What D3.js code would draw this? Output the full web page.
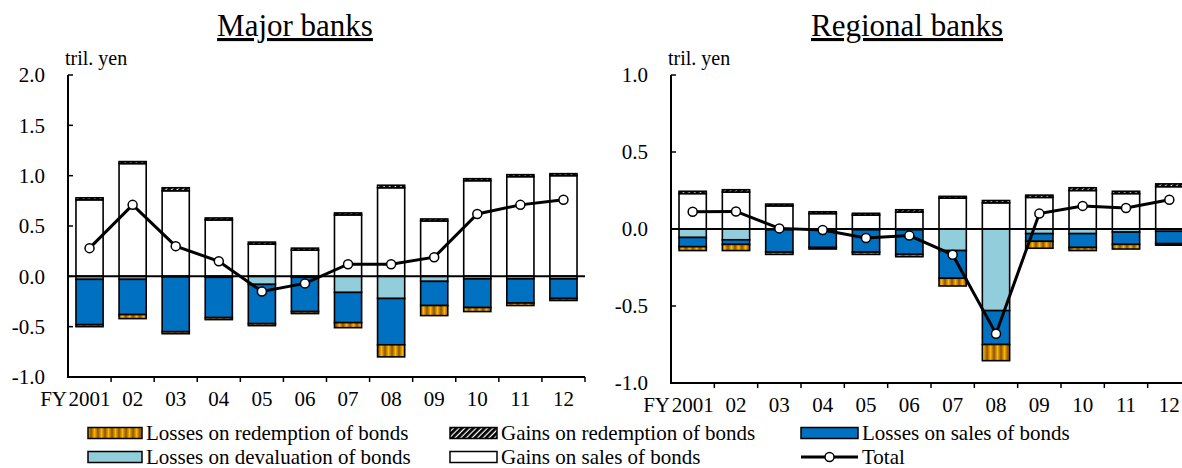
<!DOCTYPE html>
<html>
<head>
<meta charset="utf-8">
<script src="https://cdn.jsdelivr.net/npm/d3@7"></script>
<style>
  body { margin: 0; background: #fff; }
  svg { display: block; font-family: "Liberation Serif", "Times New Roman", "DejaVu Serif", serif; }
</style>
</head>
<body>
<div id="chart"></div>
<script>
// fiscal years on the x axis
var years = ["2001", "02", "03", "04", "05", "06", "07", "08", "09", "10", "11", "12"];

// major banks (tril. yen), losses given as positive sizes, drawn below zero
var majorGainsSales      = [0.76, 1.12, 0.85, 0.56, 0.32, 0.26, 0.61, 0.88, 0.55, 0.95, 0.99, 1.00];
var majorGainsRedemption = [0.02, 0.02, 0.03, 0.02, 0.02, 0.02, 0.02, 0.025, 0.02, 0.02, 0.02, 0.02];
var majorLossDevaluation = [0.03, 0.03, 0.005, 0.01, 0.08, 0.01, 0.16, 0.22, 0.05, 0.025, 0.025, 0.025];
var majorLossSales       = [0.45, 0.35, 0.545, 0.40, 0.39, 0.34, 0.30, 0.46, 0.24, 0.285, 0.24, 0.195];
var majorLossRedemption  = [0.02, 0.04, 0.02, 0.02, 0.02, 0.02, 0.05, 0.12, 0.10, 0.04, 0.025, 0.02];
var majorTotal           = [0.28, 0.71, 0.30, 0.15, -0.15, -0.07, 0.12, 0.12, 0.19, 0.62, 0.71, 0.76];

// regional banks
var regGainsSales      = [0.23, 0.24, 0.15, 0.10, 0.09, 0.11, 0.20, 0.17, 0.205, 0.25, 0.23, 0.275];
var regGainsRedemption = [0.015, 0.015, 0.012, 0.012, 0.012, 0.015, 0.012, 0.015, 0.015, 0.018, 0.015, 0.018];
var regLossDevaluation = [0.055, 0.07, 0.005, 0.005, 0.005, 0.005, 0.14, 0.53, 0.03, 0.03, 0.02, 0.015];
var regLossSales       = [0.06, 0.03, 0.145, 0.115, 0.145, 0.16, 0.18, 0.22, 0.05, 0.09, 0.08, 0.08];
var regLossRedemption  = [0.025, 0.04, 0.015, 0.01, 0.015, 0.015, 0.05, 0.105, 0.045, 0.02, 0.03, 0.01];
var regTotal           = [0.112, 0.114, 0.004, -0.006, -0.058, -0.043, -0.167, -0.68, 0.10, 0.15, 0.136, 0.19];

var majorTicks = [2.0, 1.5, 1.0, 0.5, 0.0, -0.5, -1.0];
var regTicks = [1.0, 0.5, 0.0, -0.5, -1.0];

var BLUE = "#0070C0", LIGHTBLUE = "#92CDDC";

var svg = d3.select("#chart").append("svg")
    .attr("width", 1182)
    .attr("height", 468)
    .attr("font-family", "'Liberation Serif', 'Times New Roman', serif");

// fills with patterns
var defs = svg.append("defs");
var grad = defs.append("linearGradient").attr("id", "orangeGrad")
    .attr("x1", "0").attr("x2", "1").attr("y1", "0").attr("y2", "0");
grad.append("stop").attr("offset", "0%").attr("stop-color", "#8a5400");
grad.append("stop").attr("offset", "50%").attr("stop-color", "#ffb400");
grad.append("stop").attr("offset", "100%").attr("stop-color", "#8a5400");
defs.append("pattern").attr("id", "orange")
    .attr("patternUnits", "userSpaceOnUse")
    .attr("width", 7).attr("height", 10)
    .append("rect").attr("width", 7).attr("height", 10).attr("fill", "url(#orangeGrad)");

var hatch = defs.append("pattern").attr("id", "hatch")
    .attr("patternUnits", "userSpaceOnUse")
    .attr("width", 4).attr("height", 4)
    .attr("patternTransform", "rotate(45)");
hatch.append("rect").attr("width", 4).attr("height", 4).attr("fill", "#fff");
hatch.append("rect").attr("width", 2.8).attr("height", 4).attr("fill", "#000");

function drawPanel(opt) {
    var x = d3.scaleBand().domain(years).range([opt.x0, opt.x1]).paddingInner(0.37).paddingOuter(0.185);
    var y = d3.scaleLinear().domain(opt.domain).range([opt.y1, opt.y0]);
    var g = svg.append("g");

    // stacked segments: positives up from zero, losses down from zero
    var series = [
        { vals: opt.gainsSales, fill: "#fff", sign: 1 },
        { vals: opt.gainsRed, fill: "url(#hatch)", sign: 1 },
        { vals: opt.lossDev, fill: LIGHTBLUE, sign: -1 },
        { vals: opt.lossSales, fill: BLUE, sign: -1 },
        { vals: opt.lossRed, fill: "url(#orange)", sign: -1 }
    ];
    var pos = years.map(function () { return 0; });
    var neg = years.map(function () { return 0; });
    series.forEach(function (s) {
        var rows = years.map(function (yr, i) {
            var base = s.sign > 0 ? pos[i] : neg[i];
            var top = base + s.sign * s.vals[i];
            if (s.sign > 0) pos[i] = top; else neg[i] = top;
            return { yr: yr, a: base, b: top };
        });
        g.selectAll(null).data(rows).enter().append("rect")
            .attr("x", function (d) { return x(d.yr); })
            .attr("width", x.bandwidth())
            .attr("y", function (d) { return y(Math.max(d.a, d.b)); })
            .attr("height", function (d) { return Math.abs(y(d.a) - y(d.b)); })
            .attr("fill", s.fill)
            .attr("stroke", "#000")
            .attr("stroke-width", 1.6);
    });

    // zero line
    g.append("line")
        .attr("x1", opt.x0).attr("x2", opt.x1)
        .attr("y1", y(0)).attr("y2", y(0))
        .attr("stroke", "#000").attr("stroke-width", 2);

    // axes
    g.append("line").attr("x1", opt.x0).attr("x2", opt.x0)
        .attr("y1", y(opt.domain[1])).attr("y2", y(opt.domain[0]) + 1)
        .attr("stroke", "#000").attr("stroke-width", 2);
    g.append("line").attr("x1", opt.x0).attr("x2", opt.x1)
        .attr("y1", y(opt.domain[0])).attr("y2", y(opt.domain[0]))
        .attr("stroke", "#000").attr("stroke-width", 2);

    opt.ticks.forEach(function (t) {
        g.append("line").attr("x1", opt.x0).attr("x2", opt.x0 + 5)
            .attr("y1", y(t)).attr("y2", y(t))
            .attr("stroke", "#000").attr("stroke-width", 1.5);
        g.append("text")
            .attr("x", opt.x0 - 23).attr("y", y(t))
            .attr("dy", "0.35em")
            .attr("text-anchor", "end")
            .attr("font-size", 21)
            .text(t.toFixed(1));
    });

    var step = x.step();
    years.forEach(function (yr, i) {
        var bx = opt.x0 + step * (i + 1);
        g.append("line").attr("x1", bx).attr("x2", bx)
            .attr("y1", y(opt.domain[0])).attr("y2", y(opt.domain[0]) + 5)
            .attr("stroke", "#000").attr("stroke-width", 1.5);
        g.append("text")
            .attr("x", x(yr) + x.bandwidth() / 2)
            .attr("y", y(opt.domain[0]) + 29)
            .attr("text-anchor", "middle")
            .attr("font-size", 21)
            .text(yr);
    });
    g.append("text")
        .attr("x", opt.x0 - 1).attr("y", y(opt.domain[0]) + 29)
        .attr("text-anchor", "end")
        .attr("font-size", 21)
        .text("FY");

    g.append("text")
        .attr("x", opt.x0 - 3).attr("y", 65)
        .attr("font-size", 20)
        .text("tril. yen");

    g.append("text")
        .attr("x", opt.titleX).attr("y", 36)
        .attr("text-anchor", "middle")
        .attr("font-size", 31)
        .attr("text-decoration", "underline")
        .text(opt.title);

    // total line
    var line = d3.line()
        .x(function (d, i) { return x(years[i]) + x.bandwidth() / 2; })
        .y(function (d) { return y(d); });
    g.append("path").datum(opt.total)
        .attr("d", line)
        .attr("fill", "none")
        .attr("stroke", "#000")
        .attr("stroke-width", 3);
    g.selectAll(null).data(opt.total).enter().append("circle")
        .attr("cx", function (d, i) { return x(years[i]) + x.bandwidth() / 2; })
        .attr("cy", function (d) { return y(d); })
        .attr("r", 4.5)
        .attr("fill", "#fff")
        .attr("stroke", "#000")
        .attr("stroke-width", 1.5);
}

drawPanel({
    title: "Major banks", titleX: 295,
    x0: 68, x1: 585, y0: 75, y1: 377,
    domain: [-1, 2], ticks: majorTicks,
    gainsSales: majorGainsSales, gainsRed: majorGainsRedemption,
    lossDev: majorLossDevaluation, lossSales: majorLossSales, lossRed: majorLossRedemption,
    total: majorTotal
});

drawPanel({
    title: "Regional banks", titleX: 907,
    x0: 671, x1: 1191, y0: 75, y1: 383,
    domain: [-1, 1], ticks: regTicks,
    gainsSales: regGainsSales, gainsRed: regGainsRedemption,
    lossDev: regLossDevaluation, lossSales: regLossSales, lossRed: regLossRedemption,
    total: regTotal
});

// legend
var legendItems = [
    { label: "Losses on redemption of bonds", fill: "url(#orange)", x: 88, y: 433 },
    { label: "Gains on redemption of bonds", fill: "url(#hatch)", x: 450, y: 433 },
    { label: "Losses on sales of bonds", fill: BLUE, x: 801, y: 433 },
    { label: "Losses on devaluation of bonds", fill: LIGHTBLUE, x: 88, y: 457 },
    { label: "Gains on sales of bonds", fill: "#fff", x: 450, y: 457 },
    { label: "Total", line: true, x: 801, y: 457 }
];
var lg = svg.append("g");
legendItems.forEach(function (it) {
    var w = it.x < 400 ? 54 : (it.x < 700 ? 47 : 57);
    if (it.line) {
        lg.append("line").attr("x1", it.x).attr("x2", it.x + w)
            .attr("y1", it.y).attr("y2", it.y)
            .attr("stroke", "#000").attr("stroke-width", 3);
        lg.append("circle").attr("cx", it.x + w / 2).attr("cy", it.y).attr("r", 4.5)
            .attr("fill", "#fff").attr("stroke", "#000").attr("stroke-width", 1.5);
    } else {
        lg.append("rect").attr("x", it.x).attr("y", it.y - 5.5)
            .attr("width", w).attr("height", 11)
            .attr("fill", it.fill).attr("stroke", "#000").attr("stroke-width", 1.5);
    }
    lg.append("text").attr("x", it.x + w + 4).attr("y", it.y)
        .attr("dy", "0.33em")
        .attr("font-size", 21)
        .text(it.label);
});
</script>
</body>
</html>
